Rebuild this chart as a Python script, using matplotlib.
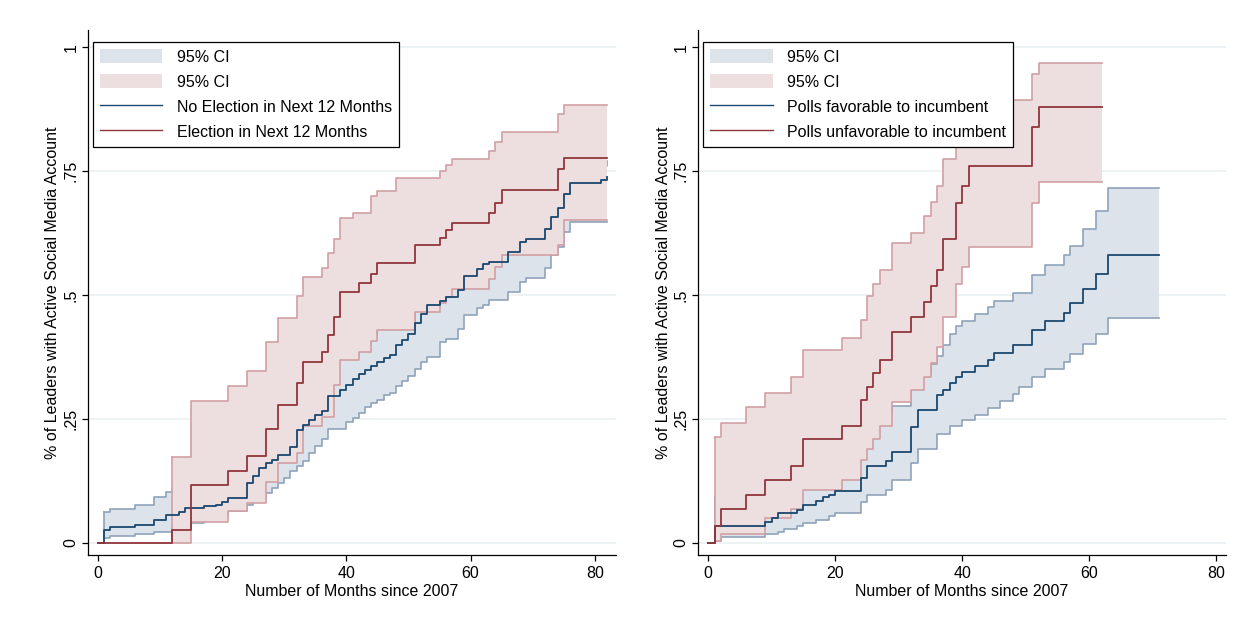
import numpy as np
import matplotlib.pyplot as plt
from matplotlib.patches import Patch
from matplotlib.lines import Line2D

plt.rcParams['font.family'] = ['Liberation Sans', 'DejaVu Sans']

# ---- left panel: election in next 12 months ----
# step change points (month, cumulative share)
none_t = [0, 1, 2, 6, 9, 11, 13, 14, 17, 19, 20, 21, 24, 25, 26, 27, 28, 29, 31, 32,
          33, 34, 35, 36, 37, 39, 40, 41, 42, 43, 44, 45, 46, 47, 48, 49, 50, 51, 52, 53,
          55, 56, 58, 59, 61, 62, 63, 66, 68, 69, 72, 73, 74, 75, 76, 81, 82]
none_y = [0, .026, .032, .036, .046, .056, .061, .070, .073, .077, .083, .090, .12, .134, .15, .16, .167, .177, .194, .228,
          .238, .248, .258, .265, .297, .308, .318, .330, .341, .349, .357, .364, .372, .379, .399, .409, .422, .444, .462, .48,
          .488, .495, .511, .539, .552, .562, .567, .587, .607, .614, .634, .657, .676, .703, .726, .733, .738]

elec_t = [0, 12, 15, 21, 24, 27, 29, 32, 33, 36, 37, 38, 39, 42, 44, 45, 51, 55, 56, 57, 63, 64, 65, 74, 75, 82]
elec_y = [0, .026, .117, .144, .174, .229, .278, .322, .365, .384, .419, .455, .507, .524, .542, .564, .601, .616,
          .631, .645, .666, .686, .712, .755, .777, .777]

none_lo_t = [1, 2, 6, 9, 12, 15, 17, 19, 21, 24, 25, 26, 27, 28, 29, 30, 31, 32, 33, 34, 35, 36, 37, 40, 41, 42,
             43, 44, 45, 46, 47, 48, 49, 50, 51, 52, 53, 55, 56, 58, 59, 61, 62, 63, 66, 68, 69, 72, 73, 74, 75, 76, 82]
none_lo_y = [.009, .014, .018, .022, .032, .04, .043, .056, .063, .077, .083, .09, .10, .11, .12, .13, .145, .155, .165,
             .18, .195, .21, .229, .244, .251, .262, .273, .281, .288, .298, .303, .317, .327, .337, .350, .364, .374,
             .405, .412, .431, .459, .473, .480, .489, .507, .527, .534, .554, .58, .597, .628, .648, .648]
none_hi_t = [1, 2, 6, 9, 11, 12, 15, 20, 24, 28, 32, 37, 38, 39, 42, 44, 45, 51, 55, 57, 59, 61, 63, 64, 65, 68, 72,
             73, 74, 75, 76, 82]
none_hi_y = [.061, .067, .077, .093, .103, .11, .12, .13, .17, .22, .28, .35, .37, .38, .40, .42, .44, .49, .52, .54,
             .57, .58, .60, .61, .63, .65, .67, .69, .71, .74, .76, .77]

elec_lo_t = [12, 15, 21, 24, 27, 29, 32, 33, 36, 38, 39, 42, 44, 45, 51, 55, 56, 57, 63, 64, 65, 74, 75, 82]
elec_lo_y = [0, .041, .063, .080, .122, .161, .18, .235, .253, .318, .369, .385, .408, .429, .466, .483, .495, .512,
             .533, .557, .581, .60, .651, .651]
elec_hi_t = [12, 15, 21, 24, 27, 29, 32, 33, 36, 37, 38, 39, 41, 44, 45, 48, 55, 56, 57, 63, 64, 65, 74, 75, 82]
elec_hi_y = [.173, .285, .316, .347, .406, .454, .498, .537, .554, .585, .614, .655, .665, .70, .71, .737, .75, .762,
             .774, .791, .809, .829, .866, .883, .883]

# ---- right panel: polls ----
fav_t = [0, 1, 9, 10, 11, 14, 15, 17, 18, 19, 20, 24, 25, 28, 29, 32, 33, 36, 37, 38, 39, 40, 42, 44, 45, 48,
         51, 53, 56, 57, 59, 61, 63, 71]
fav_y = [0, .033, .041, .05, .06, .066, .077, .085, .093, .097, .105, .13, .154, .164, .184, .234, .267, .298, .309,
         .322, .334, .345, .357, .369, .382, .399, .429, .448, .464, .483, .513, .542, .58, .58]

unfav_t = [0, 1, 2, 6, 9, 13, 15, 21, 24, 25, 26, 27, 29, 32, 34, 35, 36, 37, 39, 40, 41, 51, 52, 62]
unfav_y = [0, .033, .067, .097, .127, .155, .209, .235, .288, .315, .343, .369, .426, .456, .486, .518, .55, .614,
           .685, .72, .76, .839, .879, .879]

fav_lo_t = [1, 2, 9, 11, 12, 14, 15, 17, 19, 20, 24, 25, 28, 29, 32, 33, 36, 38, 40, 42, 44, 46, 48, 49, 51, 53,
            56, 57, 59, 61, 63, 71]
fav_lo_y = [.003, .012, .018, .022, .027, .033, .039, .046, .054, .06, .083, .097, .107, .127, .16, .19, .22, .235,
            .248, .258, .271, .285, .30, .315, .334, .35, .365, .381, .402, .422, .453, .453]
fav_hi_t = [1, 6, 9, 12, 15, 18, 21, 24, 26, 29, 32, 33, 35, 36, 37, 38, 39, 40, 42, 44, 45, 48, 51, 53, 56, 57,
            59, 61, 63, 71]
fav_hi_y = [.09, .10, .11, .13, .16, .18, .2, .24, .26, .275, .32, .34, .36, .376, .399, .422, .437, .448, .461,
            .475, .488, .504, .54, .56, .58, .599, .634, .67, .717, .717]

unfav_lo_t = [1, 2, 9, 13, 15, 21, 24, 25, 26, 27, 29, 32, 34, 35, 36, 37, 39, 40, 41, 51, 52, 62]
unfav_lo_y = [.003, .018, .05, .068, .107, .127, .167, .189, .209, .235, .283, .308, .335, .362, .396, .456, .523,
              .557, .597, .685, .728, .728]
unfav_hi_t = [1, 2, 6, 9, 13, 15, 21, 24, 25, 26, 27, 29, 32, 34, 35, 36, 37, 39, 40, 41, 51, 52, 62]
unfav_hi_y = [.213, .241, .274, .303, .335, .388, .413, .45, .497, .523, .55, .604, .625, .659, .688, .72, .775,
              .80, .85, .893, .947, .968, .968]

BLUE, RED = '#1a476f', '#90353b'
BLUE_FILL, RED_FILL = '#dde3ea', '#eddfe0'
BLUE_EDGE, RED_EDGE = '#8fa3bb', '#d1a0a4'


def step_at(t, y, grid):
    idx = np.searchsorted(t, grid, side='right') - 1
    return np.asarray(y)[idx]


def ci_band(ax, lo_t, lo_y, hi_t, hi_y, fill, edge, z):
    grid = np.union1d(lo_t, hi_t)
    ax.fill_between(grid, step_at(lo_t, lo_y, grid), step_at(hi_t, hi_y, grid),
                    step='post', color=fill, lw=0, zorder=z)
    ax.step(lo_t, lo_y, where='post', color=edge, lw=1.2, zorder=z + 0.1)
    ax.step(hi_t, hi_y, where='post', color=edge, lw=1.2, zorder=z + 0.1)
    # left closing edge of the band
    ax.plot([lo_t[0], hi_t[0]], [lo_y[0], hi_y[0]], color=edge, lw=1.2, zorder=z + 0.1)


def setup(ax, xmax, labels):
    ax.set_xlim(-1.6, xmax)
    ax.set_ylim(-0.025, 1.035)
    ax.set_xticks([0, 20, 40, 60, 80])
    ax.set_yticks([0, .25, .5, .75, 1])
    ax.set_yticklabels(['0', '.25', '.5', '.75', '1'])
    for s in ['top', 'right']:
        ax.spines[s].set_visible(False)
    for s in ['left', 'bottom']:
        ax.spines[s].set_linewidth(0.9)
    ax.tick_params(direction='out', length=4, width=0.9, labelsize=11.5, pad=4)
    ax.tick_params(axis='y', labelrotation=90, pad=3)
    for lab in ax.get_yticklabels():
        lab.set_va('center')
    ax.grid(axis='y', color='#e8f0f1', lw=1.1, zorder=0)
    ax.set_axisbelow(True)
    ax.set_xlabel('Number of Months since 2007', fontsize=11.5, labelpad=2)
    ax.set_ylabel('% of Leaders with Active Social Media Account', fontsize=11.5, labelpad=2)
    handles = [Patch(facecolor=BLUE_FILL, edgecolor='none'),
               Patch(facecolor=RED_FILL, edgecolor='none'),
               Line2D([], [], color=BLUE, lw=1.0),
               Line2D([], [], color=RED, lw=1.0)]
    leg = ax.legend(handles, ['95% CI', '95% CI'] + labels, loc='upper left',
                    bbox_to_anchor=(0.0095, 0.977), borderaxespad=0, fontsize=11.5,
                    fancybox=False, framealpha=1, edgecolor='black',
                    handlelength=3.9, handleheight=0.95, handletextpad=0.9,
                    labelspacing=0.6, borderpad=0.45)
    leg.get_frame().set_linewidth(0.9)
    leg.set_zorder(10)


fig = plt.figure(figsize=(12.57, 6.27), dpi=100)
axl = fig.add_axes([0.0700, 0.1148, 0.4200, 0.8373])
axr = fig.add_axes([0.5553, 0.1148, 0.4200, 0.8373])

ci_band(axl, none_lo_t, none_lo_y, none_hi_t, none_hi_y, BLUE_FILL, BLUE_EDGE, 2)
ci_band(axl, elec_lo_t, elec_lo_y, elec_hi_t, elec_hi_y, RED_FILL, RED_EDGE, 3)
axl.step(none_t, none_y, where='post', color=BLUE, lw=1.3, zorder=5)
axl.step(elec_t, elec_y, where='post', color=RED, lw=1.3, zorder=6)
setup(axl, 83.4, ['No Election in Next 12 Months', 'Election in Next 12 Months'])

ci_band(axr, fav_lo_t, fav_lo_y, fav_hi_t, fav_hi_y, BLUE_FILL, BLUE_EDGE, 2)
ci_band(axr, unfav_lo_t, unfav_lo_y, unfav_hi_t, unfav_hi_y, RED_FILL, RED_EDGE, 3)
axr.step(fav_t, fav_y, where='post', color=BLUE, lw=1.3, zorder=5)
axr.step(unfav_t, unfav_y, where='post', color=RED, lw=1.3, zorder=6)
setup(axr, 81.5, ['Polls favorable to incumbent', 'Polls unfavorable to incumbent'])

fig.savefig('out.png', dpi=100, facecolor='white')
